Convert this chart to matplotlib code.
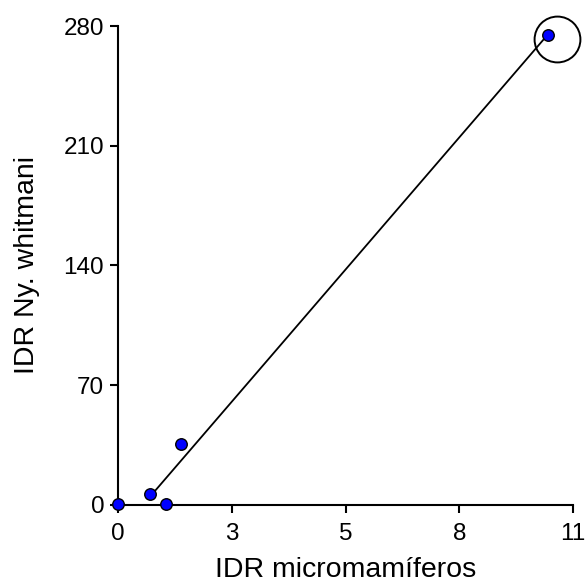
import matplotlib
matplotlib.use("Agg")
import matplotlib.pyplot as plt

plt.rcParams["font.family"] = ["Liberation Sans", "DejaVu Sans"]

# IDR values
idr_micro = [0.0, 0.78, 1.16, 1.52, 10.39]
idr_nyssomyia = [0.5, 6.5, 0.5, 35.5, 275.0]

# fitted line, drawn between its two ends
fit_x = [0.85, 10.39]
fit_y = [7.0, 275.0]

# the outlier that is circled
outlier_x = [10.62]
outlier_y = [272.5]

x_ticks = [0, 2.75, 5.5, 8.25, 11]
x_labels = ["0", "3", "5", "8", "11"]
y_ticks = [0, 70, 140, 210, 280]

fig = plt.figure(figsize=(5.86, 5.83), dpi=100)
ax = fig.add_axes([0.2014, 0.1338, 0.7765, 0.8216])

ax.plot(fit_x, fit_y, color="black", linewidth=1.3, zorder=2)
ax.plot(idr_micro, idr_nyssomyia, linestyle="none", marker="o",
        markersize=8.3, markerfacecolor="#0000FF", markeredgecolor="black",
        markeredgewidth=1.0, clip_on=False, zorder=3)
ax.plot(outlier_x, outlier_y, linestyle="none", marker="o", markersize=33,
        markerfacecolor="none", markeredgecolor="black",
        markeredgewidth=1.4, clip_on=False, zorder=3)

ax.set_xlim(0, 11)
ax.set_ylim(0, 280)
ax.set_xticks(x_ticks)
ax.set_xticklabels(x_labels)
ax.set_yticks(y_ticks)

for side in ("top", "right"):
    ax.spines[side].set_visible(False)
for side in ("left", "bottom"):
    ax.spines[side].set_linewidth(1.5)

ax.tick_params(direction="out", length=6, width=1.5, labelsize=17.5)
ax.tick_params(axis="x", pad=7)
ax.tick_params(axis="y", pad=4)

ax.set_xlabel("IDR micromamíferos", fontsize=20.5, labelpad=8.5)
ax.set_ylabel("IDR Ny. whitmani", fontsize=20.5, labelpad=17)

fig.savefig("out.png", dpi=100)
